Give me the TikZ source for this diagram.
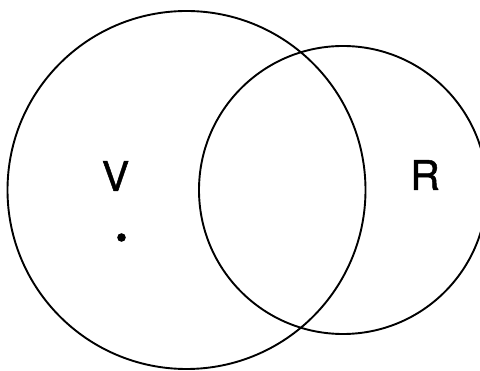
\documentclass[tikz,border=0pt]{standalone}
\usepackage{fontspec}
\setmainfont{TeX Gyre Heros}
\newfontfamily\lblfont[FakeBold=1.2]{TeX Gyre Heros}
\begin{document}
\begin{tikzpicture}[x=1pt,y=-1pt,
  ring/.style={draw=black,line width=1.9pt},
  lbl/.style={font=\lblfont\fontsize{41}{41}\selectfont,inner sep=0pt,anchor=center}]
\useasboundingbox (0,0) rectangle (480,371);
\clip (0,0) rectangle (480,371);
\fill[white] (0,0) rectangle (480,371);
\node[ring,circle,minimum size=358pt,inner sep=0pt] (V) at (186.5,190) {};
\node[ring,circle,minimum size=288pt,inner sep=0pt] (R) at (343,190) {};
\node[lbl] (vl) at (115.5,176) {V};
\node[lbl] (rl) at (425,175) {R};
\fill (121.5,237.5) circle (4.3pt) coordinate (p);
\end{tikzpicture}
\end{document}
